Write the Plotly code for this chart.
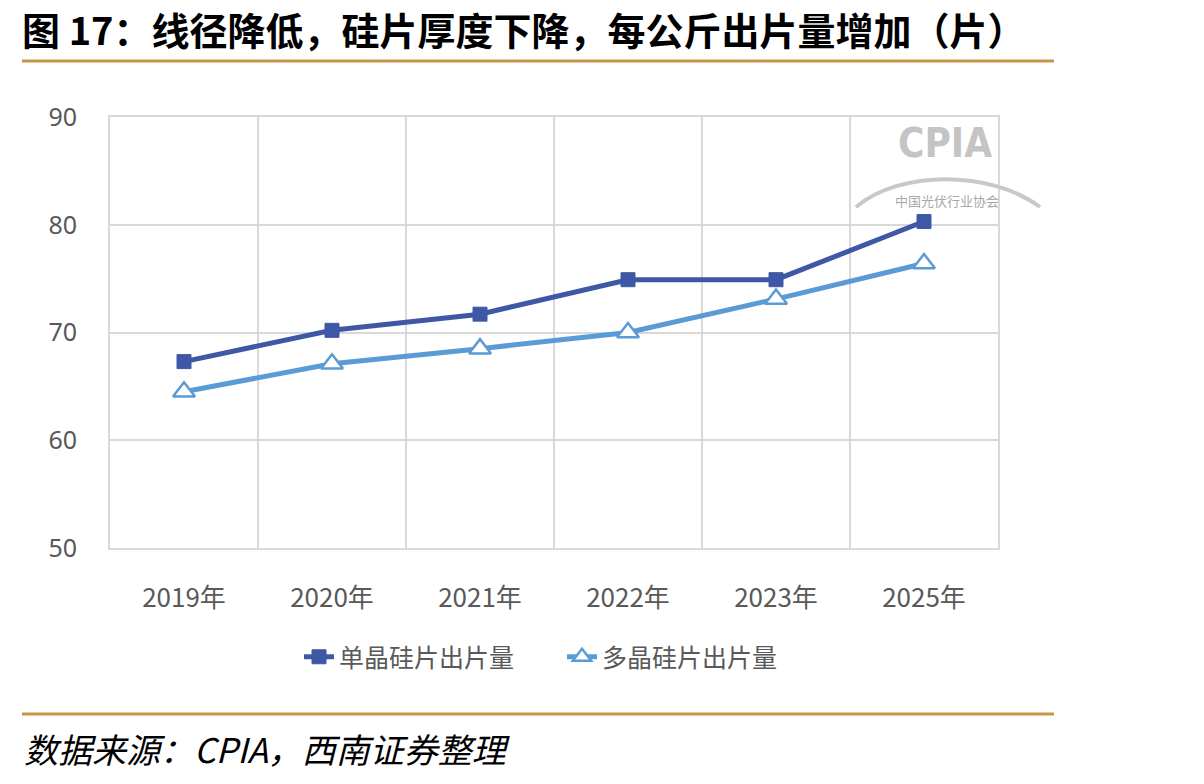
import plotly.graph_objects as go

categories = ["2019年", "2020年", "2021年", "2022年", "2023年", "2025年"]
mono = [67.3, 70.2, 71.7, 74.9, 74.9, 80.3]
multi = [64.5, 67.1, 68.5, 70.0, 73.1, 76.4]
series_names = ["单晶硅片出片量", "多晶硅片出片量"]
y_ticks = [50, 60, 70, 80, 90]

W, H = 1204, 784
L, R, T, B = 110, 998, 117, 548


def px_x(p):
    return (p - L) / (R - L)


def px_y(p):
    return (B - p) / (B - T)


xs = list(range(len(categories)))
fig = go.Figure()
fig.add_trace(go.Scatter(
    x=xs, y=mono, name=series_names[0], mode="lines+markers",
    line=dict(color="#3F58A6", width=5),
    marker=dict(symbol="square", size=14, color="#3F58A6",
                line=dict(color="#3F58A6", width=1)),
))
fig.add_trace(go.Scatter(
    x=xs, y=multi, name=series_names[1], mode="lines+markers",
    line=dict(color="#5B9BD5", width=5),
    marker=dict(symbol="triangle-up", size=19, color="white",
                line=dict(color="#5B9BD5", width=2.5)),
))

grid = "#D9D9D9"
fig.update_layout(
    width=W, height=H,
    margin=dict(l=L, r=W - R, t=T, b=H - B, pad=0),
    paper_bgcolor="white", plot_bgcolor="white",
    font=dict(family="Noto Sans CJK SC, Noto Sans, sans-serif", color="#595959"),
    showlegend=True,
    legend=dict(orientation="h", x=px_x(299), xanchor="left", y=(H - 657) / H,
                yref="container", yanchor="middle",
                font=dict(size=25, color="#595959"),
                entrywidth=218, entrywidthmode="pixels", traceorder="normal"),
    xaxis=dict(
        range=[-0.5, len(categories) - 0.5],
        tickmode="array", tickvals=xs, ticktext=categories,
        showgrid=False, zeroline=False,
        ticks="", ticklen=0,
        tickfont=dict(size=26, color="#595959", family="Noto Sans CJK SC, sans-serif"),
        minor=dict(tickmode="array",
                   tickvals=[i - 0.5 for i in range(len(categories) + 1)],
                   showgrid=True, gridcolor=grid, gridwidth=2, ticks=""),
        showline=True, linecolor=grid, linewidth=2, mirror=True,
        ticklabelstandoff=26,
    ),
    yaxis=dict(
        range=[50, 90], tickmode="array", tickvals=y_ticks,
        showgrid=True, gridcolor=grid, gridwidth=2, zeroline=False,
        ticks="", tickfont=dict(size=25, color="#595959", family="Noto Sans, sans-serif"),
        showline=True, linecolor=grid, linewidth=2, mirror=True,
        ticklabelstandoff=26,
    ),
)

# Title
fig.add_annotation(
    text="<b>图 17：线径降低，硅片厚度下降，每公斤出片量增加（片）</b>",
    xref="paper", yref="paper", x=px_x(20), y=px_y(29),
    xanchor="left", yanchor="middle", showarrow=False,
    font=dict(size=38, color="black", family="Noto Sans CJK SC, sans-serif"),
)
# Source
fig.add_annotation(
    text="<i>数据来源：CPIA，西南证券整理</i>",
    xref="paper", yref="paper", x=px_x(22), y=px_y(748),
    xanchor="left", yanchor="middle", showarrow=False,
    font=dict(size=34, color="black", family="Noto Sans CJK SC, sans-serif"),
)

gold = "#C9954A"
for yy in (61, 714):
    fig.add_shape(type="line", xref="paper", yref="paper",
                  x0=px_x(22), x1=px_x(1054), y0=px_y(yy), y1=px_y(yy),
                  line=dict(color=gold, width=3))

# CPIA watermark
fig.add_shape(type="path", xref="paper", yref="paper", layer="above",
              path=(f"M {px_x(856)},{px_y(207)} "
                    f"C {px_x(900)},{px_y(170)} {px_x(990)},{px_y(170)} {px_x(1040)},{px_y(207)}"),
              line=dict(color="#C8C8C8", width=4))
fig.add_annotation(text="<b>CPIA</b>", xref="paper", yref="paper",
                   x=px_x(945), y=px_y(143), xanchor="center", yanchor="middle",
                   showarrow=False,
                   font=dict(size=40, color="#C4C4C4", family="DejaVu Sans Condensed, sans-serif"))
fig.add_annotation(text="中国光伏行业协会", xref="paper", yref="paper",
                   x=px_x(947), y=px_y(200), xanchor="center", yanchor="middle",
                   showarrow=False,
                   font=dict(size=13, color="#A8A8A8"))

fig.write_html("out.html")
